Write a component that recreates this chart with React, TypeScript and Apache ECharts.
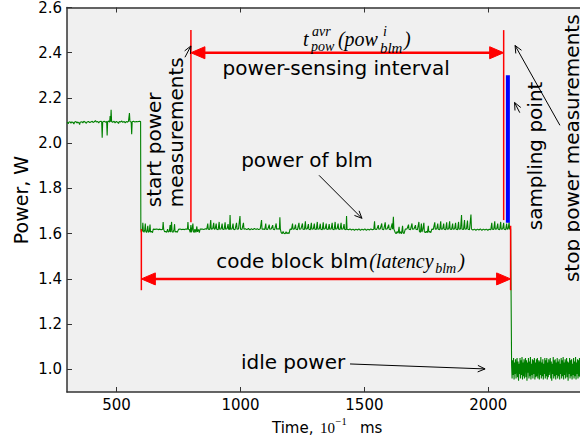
import React, { useEffect, useRef } from "react";
import * as echarts from "echarts";

// ---- data (time in 10^-1 ms, power in W) ----
const highPhase: [number, number][] = [
  [300, 2.093], [303, 2.09], [305, 2.086], [307, 2.093], [312, 2.095], [316, 2.088], [318, 2.094], [324, 2.092],
  [328, 2.085], [330, 2.093], [336, 2.096], [340, 2.089], [343, 2.094], [348, 2.09], [351, 2.082], [353, 2.093],
  [360, 2.095], [364, 2.09], [368, 2.097], [374, 2.093], [378, 2.088], [381, 2.094], [387, 2.096], [392, 2.091],
  [396, 2.094], [402, 2.097], [405, 2.092], [410, 2.095], [415, 2.1], [418, 2.094], [424, 2.096], [428, 2.09],
  [431, 2.095], [437, 2.097], [440, 2.094], [442, 2.024], [444, 2.094], [450, 2.097], [455, 2.093], [460, 2.096],
  [462, 2.034], [464, 2.095], [468, 2.098], [472, 2.093], [474, 2.12], [476, 2.095], [478, 2.148], [480, 2.096],
  [484, 2.093], [490, 2.097], [494, 2.09], [499, 2.096], [504, 2.093], [508, 2.087], [511, 2.096], [516, 2.094],
  [521, 2.098], [525, 2.092], [530, 2.096], [535, 2.09], [539, 2.096], [544, 2.093], [548, 2.097], [552, 2.133],
  [554, 2.096], [559, 2.094], [561, 2.04], [563, 2.095], [568, 2.097], [574, 2.094], [580, 2.096], [586, 2.095],
  [592, 2.097], [597, 2.096],
];

const blmPhase: [number, number][] = [
  [598, 1.62], [600, 1.606], [602, 1.62], [604, 1.61], [606, 1.648], [608, 1.612], [611, 1.606], [614, 1.62],
  [616, 1.645], [618, 1.61], [621, 1.605], [624, 1.618], [626, 1.635], [628, 1.606], [632, 1.609], [635, 1.64],
  [637, 1.607], [641, 1.61], [645, 1.605], [648, 1.62], [655, 1.619], [662, 1.621], [668, 1.618], [675, 1.62],
  [680, 1.617], [686, 1.62], [688, 1.652], [690, 1.62], [694, 1.608], [698, 1.61], [702, 1.606], [706, 1.62],
  [709, 1.607], [713, 1.61], [716, 1.638], [718, 1.606], [722, 1.652], [724, 1.609], [728, 1.606], [732, 1.62],
  [734, 1.642], [736, 1.608], [741, 1.61], [745, 1.606], [750, 1.619], [756, 1.621], [762, 1.618], [768, 1.62],
  [774, 1.618], [780, 1.621], [786, 1.62], [788, 1.652], [790, 1.62], [794, 1.618], [797, 1.606], [800, 1.638],
  [802, 1.606], [805, 1.62], [808, 1.645], [810, 1.61], [813, 1.605], [816, 1.62], [820, 1.606], [824, 1.632],
  [826, 1.608], [830, 1.619], [834, 1.605], [837, 1.62], [845, 1.621], [852, 1.618], [858, 1.622], [864, 1.62],
  [868, 1.645], [870, 1.62], [876, 1.619], [880, 1.66], [882, 1.62], [888, 1.622], [892, 1.648], [894, 1.62],
  [898, 1.621], [902, 1.645], [904, 1.62], [910, 1.618], [914, 1.652], [916, 1.62], [922, 1.621], [926, 1.645],
  [928, 1.62], [934, 1.619], [938, 1.65], [940, 1.62], [946, 1.622], [950, 1.642], [952, 1.62], [956, 1.618],
  [958, 1.682], [960, 1.62], [966, 1.621], [970, 1.645], [972, 1.62], [978, 1.618], [984, 1.648], [986, 1.62],
  [992, 1.621], [998, 1.678], [1000, 1.62], [1006, 1.619], [1012, 1.648], [1014, 1.62], [1020, 1.622], [1026, 1.618],
  [1032, 1.623], [1038, 1.617], [1044, 1.622], [1050, 1.618], [1056, 1.623], [1062, 1.619], [1068, 1.622], [1074, 1.618],
  [1080, 1.622], [1085, 1.66], [1087, 1.62], [1092, 1.621], [1098, 1.618], [1102, 1.645], [1104, 1.62], [1110, 1.619],
  [1116, 1.64], [1118, 1.62], [1124, 1.621], [1130, 1.638], [1132, 1.62], [1138, 1.618], [1144, 1.645], [1146, 1.62],
  [1152, 1.622], [1157, 1.62], [1159, 1.672], [1161, 1.62], [1164, 1.606], [1168, 1.6], [1172, 1.61], [1175, 1.602],
  [1180, 1.6], [1184, 1.608], [1188, 1.6], [1192, 1.605], [1196, 1.6], [1200, 1.62], [1206, 1.619], [1210, 1.645],
  [1212, 1.62], [1218, 1.621], [1222, 1.64], [1224, 1.62], [1230, 1.618], [1236, 1.648], [1238, 1.62], [1244, 1.621],
  [1250, 1.645], [1252, 1.62], [1258, 1.619], [1262, 1.655], [1264, 1.62], [1270, 1.622], [1274, 1.642], [1276, 1.62],
  [1282, 1.618], [1286, 1.648], [1288, 1.62], [1294, 1.621], [1298, 1.645], [1300, 1.62], [1306, 1.619], [1310, 1.652],
  [1312, 1.62], [1318, 1.621], [1322, 1.644], [1324, 1.62], [1330, 1.618], [1334, 1.65], [1336, 1.62], [1342, 1.622],
  [1346, 1.645], [1348, 1.62], [1354, 1.619], [1358, 1.642], [1360, 1.62], [1366, 1.621], [1370, 1.648], [1372, 1.62],
  [1378, 1.618], [1382, 1.652], [1384, 1.62], [1390, 1.622], [1394, 1.645], [1396, 1.62], [1402, 1.619], [1406, 1.648],
  [1408, 1.62], [1414, 1.621], [1418, 1.642], [1420, 1.62], [1426, 1.618], [1428, 1.678], [1430, 1.62], [1436, 1.617],
  [1442, 1.621], [1448, 1.616], [1454, 1.62], [1460, 1.615], [1466, 1.62], [1472, 1.616], [1478, 1.621], [1484, 1.615],
  [1490, 1.62], [1496, 1.616], [1502, 1.621], [1508, 1.615], [1514, 1.62], [1520, 1.616], [1526, 1.621], [1532, 1.617],
  [1538, 1.62], [1541, 1.655], [1543, 1.62], [1550, 1.619], [1556, 1.638], [1558, 1.62], [1564, 1.621], [1570, 1.645],
  [1572, 1.62], [1578, 1.618], [1584, 1.65], [1586, 1.62], [1592, 1.621], [1598, 1.64], [1600, 1.62], [1606, 1.618],
  [1612, 1.645], [1614, 1.62], [1617, 1.675], [1619, 1.62], [1624, 1.606], [1628, 1.6], [1632, 1.61], [1636, 1.602],
  [1640, 1.63], [1642, 1.601], [1646, 1.608], [1650, 1.6], [1654, 1.635], [1656, 1.605], [1660, 1.6], [1665, 1.62],
  [1672, 1.621], [1678, 1.64], [1680, 1.62], [1686, 1.618], [1692, 1.645], [1694, 1.62], [1700, 1.621], [1706, 1.638],
  [1708, 1.62], [1714, 1.618], [1720, 1.652], [1722, 1.61], [1726, 1.606], [1730, 1.645], [1732, 1.607], [1736, 1.62],
  [1740, 1.648], [1742, 1.608], [1746, 1.605], [1750, 1.61], [1754, 1.604], [1758, 1.635], [1760, 1.606], [1764, 1.61],
  [1768, 1.605], [1772, 1.62], [1778, 1.619], [1784, 1.65], [1786, 1.62], [1792, 1.621], [1796, 1.645], [1798, 1.62],
  [1804, 1.618], [1808, 1.655], [1810, 1.62], [1816, 1.621], [1820, 1.645], [1822, 1.62], [1828, 1.618], [1832, 1.65],
  [1834, 1.62], [1840, 1.621], [1844, 1.655], [1846, 1.62], [1852, 1.619], [1856, 1.645], [1858, 1.62], [1864, 1.621],
  [1868, 1.648], [1870, 1.62], [1876, 1.618], [1880, 1.652], [1882, 1.62], [1888, 1.621], [1892, 1.682], [1894, 1.62],
  [1900, 1.619], [1904, 1.66], [1906, 1.62], [1912, 1.621], [1916, 1.658], [1918, 1.62], [1924, 1.618], [1930, 1.685],
  [1932, 1.62], [1938, 1.616], [1944, 1.62], [1950, 1.615], [1956, 1.62], [1962, 1.616], [1968, 1.621], [1974, 1.615],
  [1980, 1.62], [1986, 1.616], [1992, 1.62], [1998, 1.615], [2004, 1.62], [2010, 1.617], [2014, 1.648], [2016, 1.62],
  [2022, 1.619], [2026, 1.655], [2028, 1.62], [2034, 1.621], [2038, 1.645], [2040, 1.62], [2046, 1.618], [2050, 1.652],
  [2052, 1.62], [2058, 1.621], [2062, 1.648], [2064, 1.62], [2070, 1.618], [2074, 1.645], [2076, 1.62], [2080, 1.621],
  [2084, 1.65], [2086, 1.62], [2090, 1.622], [2092, 1.62],
];

const idlePhase: [number, number][] = [
  [2094, 1.02], [2096, 0.96], [2098, 1.04], [2100, 0.975], [2102, 1.05], [2104, 0.955], [2106, 1.03], [2108, 0.98],
  [2110, 1.045], [2112, 0.96], [2114, 1.015], [2116, 1.05], [2118, 0.965], [2120, 1.035], [2122, 0.95], [2124, 1.025],
  [2126, 0.98], [2128, 1.05], [2130, 0.96], [2132, 1.04], [2134, 0.975], [2136, 1.055], [2138, 0.955], [2140, 1.03],
  [2142, 0.97], [2144, 1.045], [2146, 0.96], [2148, 1.02], [2150, 1.05], [2152, 0.965], [2154, 1.04], [2156, 0.95],
  [2158, 1.03], [2160, 0.985], [2162, 1.05], [2164, 0.96], [2166, 1.035], [2168, 0.97], [2170, 1.055], [2172, 0.955],
  [2174, 1.025], [2176, 0.975], [2178, 1.045], [2180, 0.96], [2182, 1.04], [2184, 0.98], [2186, 1.05], [2188, 0.955],
  [2190, 1.03], [2192, 0.965], [2194, 1.045], [2196, 0.97], [2198, 1.05], [2200, 0.96], [2202, 1.02], [2204, 1.04],
  [2206, 0.955], [2208, 1.035], [2210, 0.975], [2212, 1.055], [2214, 0.96], [2216, 1.03], [2218, 0.97], [2220, 1.045],
  [2222, 0.955], [2224, 1.025], [2226, 0.98], [2228, 1.05], [2230, 0.96], [2232, 1.04], [2234, 0.97], [2236, 1.05],
  [2238, 0.955], [2240, 1.03], [2242, 0.965], [2244, 1.045], [2246, 0.975], [2248, 1.02], [2250, 1.05], [2252, 0.96],
  [2254, 1.035], [2256, 0.95], [2258, 1.025], [2260, 0.98], [2262, 1.055], [2264, 0.96], [2266, 1.04], [2268, 0.97],
  [2270, 1.045], [2272, 0.955], [2274, 1.03], [2276, 0.975], [2278, 1.05], [2280, 0.96], [2282, 1.035], [2284, 0.97],
  [2286, 1.045], [2288, 0.955], [2290, 1.025], [2292, 0.98], [2294, 1.05], [2296, 0.96], [2298, 1.04], [2300, 0.97],
  [2302, 1.055], [2304, 0.955], [2306, 1.03], [2308, 0.975], [2310, 1.045], [2312, 0.96], [2314, 1.02], [2316, 1.05],
  [2318, 0.965], [2320, 1.035], [2322, 0.95], [2324, 1.03], [2326, 0.98], [2328, 1.05], [2330, 0.96], [2332, 1.04],
  [2334, 0.97], [2336, 1.045], [2338, 0.955], [2340, 1.025], [2342, 0.975], [2344, 1.05], [2346, 0.96], [2348, 1.035],
  [2350, 0.97], [2352, 1.055], [2354, 0.955], [2356, 1.03], [2358, 0.98], [2360, 1.045], [2362, 0.96], [2364, 1.04],
  [2366, 0.97], [2368, 1.05], [2370, 0.965],
];

const xTicks = [500, 1000, 1500, 2000];
const yTicks = [1.0, 1.2, 1.4, 1.6, 1.8, 2.0, 2.2, 2.4, 2.6];

// event markers (time)
const codeBlockStart = 600;
const powerStart = 800;
const powerStop = 2062;
const samplingPoint = 2079;
const codeBlockEnd = 2090;

const SANS = "DejaVu Sans";
const SERIF = "Liberation Serif";
const RED = "#ff0000";

function openArrow(x1: number, y1: number, x2: number, y2: number): any[] {
  const a = Math.atan2(y2 - y1, x2 - x1);
  const L = 8, w = 0.42;
  const p1 = [x2 - L * Math.cos(a - w), y2 - L * Math.sin(a - w)];
  const p2 = [x2 - L * Math.cos(a + w), y2 - L * Math.sin(a + w)];
  return [
    { type: "line", z: 20, shape: { x1, y1, x2, y2 }, style: { stroke: "#000", lineWidth: 1 } },
    { type: "polyline", z: 20, shape: { points: [p1, [x2, y2], p2] }, style: { stroke: "#000", lineWidth: 1, fill: null } },
  ];
}

function redHead(tx: number, ty: number, dx: number, dy: number): any {
  const L = 14, W = 6;
  const bx = tx - L * dx, by = ty - L * dy;
  const px = -dy, py = dx;
  return {
    type: "polygon", z: 21,
    shape: { points: [[tx, ty], [bx + W * px, by + W * py], [bx - W * px, by - W * py]] },
    style: { fill: RED, stroke: RED, lineWidth: 1 },
  };
}

function txt(x: number, y: number, text: string, size: number, opts: any = {}): any {
  return {
    type: "text", z: 20, x, y, rotation: opts.rotation || 0,
    style: {
      text, fontSize: size, fontFamily: opts.family || SANS, fontStyle: opts.italic ? "italic" : "normal",
      fill: "#000", align: opts.align || "left", verticalAlign: "middle", lineHeight: size,
    },
  };
}

export default function App() {
  const ref = useRef<HTMLDivElement>(null);
  useEffect(() => {
    if (!ref.current) return;
    const chart = echarts.init(ref.current, null, { renderer: "svg" });
    const axisLineStyle = { color: "#333", width: 1.5 };
    const option: any = {
      animation: false,
      grid: { left: 67, right: 0, top: 7, bottom: 51, show: true, backgroundColor: "#f0f0f0", borderWidth: 0 },
      xAxis: [
        {
          type: "value", min: 300, max: 2370, position: "bottom",
          axisLine: { show: true, lineStyle: axisLineStyle },
          axisTick: { show: true, inside: true, length: 5, customValues: xTicks, lineStyle: { color: "#333", width: 1 } },
          axisLabel: {
            customValues: xTicks, fontFamily: SANS, fontSize: 15, color: "#000", margin: 5,
            formatter: (v: number) => String(v),
          },
          splitLine: { show: false },
        },
        {
          type: "value", min: 300, max: 2370, position: "top",
          axisLine: { show: true, lineStyle: axisLineStyle },
          axisTick: { show: true, inside: true, length: 5, customValues: xTicks, lineStyle: { color: "#333", width: 1 } },
          axisLabel: { show: false },
          splitLine: { show: false },
        },
      ],
      yAxis: [
        {
          type: "value", min: 0.9, max: 2.6,
          axisLine: { show: true, lineStyle: axisLineStyle },
          axisTick: { show: true, inside: true, length: 5, customValues: yTicks, lineStyle: { color: "#333", width: 1 } },
          axisLabel: {
            customValues: yTicks, fontFamily: SANS, fontSize: 15, color: "#000", margin: 5,
            formatter: (v: number) => v.toFixed(1), showMinLabel: true, showMaxLabel: true,
          },
          splitLine: { show: false },
        },
      ],
      series: [
        {
          type: "line", xAxisIndex: 0, yAxisIndex: 0, showSymbol: false, symbol: "none",
          data: [...highPhase, ...blmPhase, ...idlePhase],
          lineStyle: { color: "#008000", width: 1.1 }, itemStyle: { color: "#008000" }, z: 3,
        },
      ],
    };
    chart.setOption(option);

    const P = (t: number, p: number): number[] => chart.convertToPixel({ seriesIndex: 0 }, [t, p]) as number[];
    const g: any[] = [];

    const vline = (t: number, p1: number, p2: number, color: string, w: number) => {
      const a = P(t, p1), b = P(t, p2);
      g.push({ type: "line", z: 15, shape: { x1: a[0], y1: a[1], x2: b[0], y2: b[1] }, style: { stroke: color, lineWidth: w } });
    };
    vline(codeBlockStart, 1.62, 1.35, RED, 1.5);
    vline(powerStart, 2.5, 1.65, RED, 1.5);
    vline(powerStop, 2.5, 1.66, RED, 1.5);
    vline(codeBlockEnd, 1.635, 1.35, RED, 1.5);
    vline(samplingPoint, 2.3, 1.648, "#0000ff", 4);

    const dbl = (t1: number, t2: number, p: number) => {
      const a = P(t1, p), b = P(t2, p);
      g.push({ type: "line", z: 20, shape: { x1: a[0] + 8, y1: a[1], x2: b[0] - 8, y2: b[1] }, style: { stroke: RED, lineWidth: 2.5 } });
      g.push(redHead(a[0], a[1], -1, 0));
      g.push(redHead(b[0], b[1], 1, 0));
    };
    dbl(powerStart, powerStop, 2.4);
    dbl(codeBlockStart, codeBlockEnd, 1.4);

    // math label t_pow^avr(pow_blm^i)
    const m = P(1252, 2.428);
    g.push(txt(m[0], m[1] - 7, "t", 20, { family: SERIF, italic: true }));
    g.push(txt(m[0] + 9, m[1] - 15, "avr", 14, { family: SERIF, italic: true }));
    g.push(txt(m[0] + 8, m[1] + 0.5, "pow", 14, { family: SERIF, italic: true }));
    g.push(txt(m[0] + 35, m[1] - 7, "(pow", 20, { family: SERIF, italic: true }));
    g.push(txt(m[0] + 80, m[1] - 15, "i", 14, { family: SERIF, italic: true }));
    g.push(txt(m[0] + 77, m[1] + 1.5, "blm", 15, { family: SERIF, italic: true }));
    g.push(txt(m[0] + 101, m[1] - 7, ")", 20, { family: SERIF, italic: true }));

    const psi = P(1386, 2.331);
    g.push(txt(psi[0], psi[1], "power-sensing interval", 20, { align: "center" }));

    const pob = P(1268, 1.925);
    g.push(txt(pob[0], pob[1], "power of blm", 20, { align: "center" }));
    {
      const a = P(1317, 1.858), b = P(1490, 1.668);
      g.push(...openArrow(a[0], a[1], b[0], b[1]));
    }

    const cb = P(902, 1.2);
    const cbY = P(902, 1.4)[1] - 18;
    g.push(txt(cb[0], cbY, "code block blm", 20));
    g.push(txt(cb[0] + 153, cbY, "(latency", 20, { family: SERIF, italic: true }));
    g.push(txt(cb[0] + 219, cbY + 8, "blm", 14, { family: SERIF, italic: true }));
    g.push(txt(cb[0] + 242, cbY, ")", 20, { family: SERIF, italic: true }));

    const ip = P(1212, 1.033);
    g.push(txt(ip[0], ip[1], "idle power", 20, { align: "center" }));
    {
      const a = P(1442, 1.024), b = P(1987, 1.002);
      g.push(...openArrow(a[0], a[1], b[0], b[1]));
    }

    const rot = Math.PI / 2;
    const sp = P(697, 1.717);
    g.push(txt(sp[0] - 11, sp[1], "start power", 20, { rotation: rot }));
    g.push(txt(sp[0] + 11, sp[1], "measurements", 20, { rotation: rot }));
    {
      const a = P(776, 2.38), b = P(800, 2.43);
      g.push(...openArrow(a[0], a[1], b[0], b[1]));
    }

    const smp = P(2189, 1.615);
    g.push(txt(smp[0], smp[1], "sampling point", 20, { rotation: rot }));
    {
      const a = P(2127, 2.135), b = P(2106, 2.18);
      g.push(...openArrow(a[0], a[1], b[0], b[1]));
    }

    const stp = P(2339, 1.386);
    g.push(txt(stp[0], stp[1], "stop power measurements", 20, { rotation: rot }));
    {
      const a = P(2289, 2.079), b = P(2108, 2.432);
      g.push(...openArrow(a[0], a[1], b[0], b[1]));
    }

    // axis titles
    g.push(txt(21, 200, "Power, W", 19, { rotation: rot, align: "center" }));
    g.push(txt(272, 428, "Time, ", 15));
    g.push(txt(320, 428, "10", 15, { family: SERIF }));
    g.push(txt(335.5, 421.5, "\u22121", 10.5, { family: SERIF }));
    g.push(txt(360, 428, "ms", 15));

    chart.setOption({ graphic: { elements: g } });
    return () => chart.dispose();
  }, []);

  return (
    <div
      ref={ref}
      style={{ position: "absolute", left: 0, top: 0, width: 580, height: 443, background: "#fff" }}
    />
  );
}
